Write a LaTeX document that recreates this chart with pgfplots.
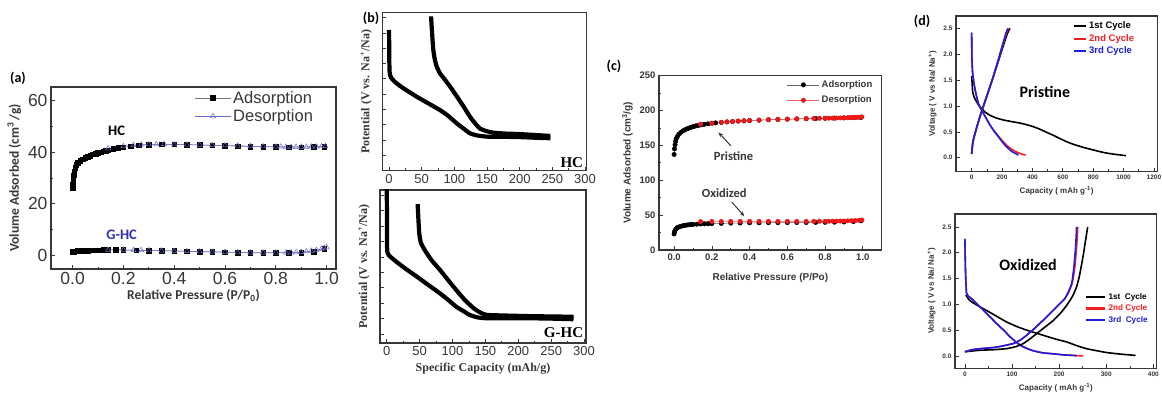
\documentclass[border=0pt]{standalone}
\usepackage{fontspec}
\setmainfont{Liberation Sans}
\newfontfamily\timesf{Liberation Serif}
\newfontfamily\calf{Carlito}
\usepackage{pgfplots}
\pgfplotsset{compat=1.18}
\usetikzlibrary{arrows.meta}
\definecolor{ghc}{RGB}{50,50,170}
\definecolor{desb}{RGB}{110,110,205}
\definecolor{cred}{RGB}{235,25,25}
\definecolor{dred}{RGB}{245,30,30}
\definecolor{dblue}{RGB}{30,30,225}
\definecolor{axg}{RGB}{55,55,55}
\pgfplotsset{
 myax/.style={scale only axis, anchor=south west,
   axis line style={axg, line width=1.2pt},
   tick style={axg, line width=0.7pt},
   major tick length=4pt, minor tick length=2.2pt, tick align=inside,
   xtick pos=left, ytick pos=left,
   /pgf/number format/assume math mode=true,
   scaled x ticks=false, scaled y ticks=false},
}
\begin{document}
\begin{tikzpicture}[x=1pt,y=1pt]
\path[use as bounding box, fill=white] (0,0) rectangle (1162,396);

% ---------------- (a) ----------------
\begin{axis}[myax, at={(51pt,127pt)}, width=285pt, height=182pt,
 xmin=-0.085, xmax=1.037, ymin=-5.4, ymax=65.3,
 xtick={0,0.2,0.4,0.6,0.8,1.0}, minor x tick num=1,
 ytick={0,20,40,60}, minor y tick num=1,
 x tick label style={/pgf/number format/fixed, /pgf/number format/fixed zerofill, /pgf/number format/precision=1},
 tick label style={font=\fontsize{17.5}{19}\selectfont, text=axg},
 xlabel={Relative Pressure (P/P\textsubscript{0})},
 ylabel={Volume Adsorbed (cm\textsuperscript{3}\,/g)},
 label style={font=\calf\bfseries\fontsize{13.5}{15}\selectfont, text=axg},
 xlabel style={yshift=2pt},
 legend style={at={(0.5,0.995)}, anchor=north west, draw=none, fill=none,
   font=\fontsize{16.5}{18}\selectfont, text=axg, row sep=1pt, inner sep=1pt},
 legend cell align=left,
 legend image code/.code={\draw[mark repeat=2, mark phase=2, #1] plot coordinates {(0pt,0pt) (18pt,0pt) (36pt,0pt)};},
]
\addplot[draw=black!55, line width=0.5pt, mark=square*, mark size=2.3pt, mark options={fill=black, draw=black, solid}] coordinates {
(0.000,26) (0.001,27.5) (0.002,29) (0.004,31) (0.006,32.5) (0.01,34) (0.015,35) (0.02,35.8) (0.03,36.6) (0.04,37.2) (0.05,37.8) (0.06,38.3) (0.07,38.7) (0.08,39.1) (0.09,39.4) (0.10,39.7) (0.11,40.0) (0.12,40.3) (0.13,40.5) (0.14,40.8) (0.16,41.2) (0.18,41.6) (0.20,41.9) (0.23,42.3) (0.26,42.6) (0.30,42.8) (0.35,43.0) (0.40,43.0) (0.45,42.9) (0.50,42.8) (0.55,42.6) (0.60,42.5) (0.65,42.3) (0.70,42.2) (0.75,42.1) (0.80,42.0) (0.85,41.9) (0.90,41.9) (0.95,42.0) (0.99,42.1)};
\addlegendentry{Adsorption}
\addplot[draw=desb, line width=0.5pt, mark=triangle, mark size=3pt, mark options={draw=desb, fill=white, solid}] coordinates {
(0.995,42.3) (0.98,42.2) (0.96,42.1) (0.94,42.1) (0.92,42.0) (0.90,42.0) (0.88,42.0) (0.86,42.0) (0.84,42.0) (0.82,42.1) (0.80,42.1) (0.75,42.2) (0.70,42.3) (0.65,42.5) (0.60,42.6) (0.55,42.7) (0.50,42.8) (0.45,42.9) (0.40,43.0) (0.36,43.1) (0.33,43.0) (0.30,43.0) (0.27,42.9) (0.24,42.7) (0.20,42.3) (0.14,41.5)};
\addlegendentry{Desorption}
\addplot[forget plot, draw=black!55, line width=0.5pt, mark=square*, mark size=2.3pt, mark options={fill=black, draw=black, solid}] coordinates {
(0,1.2) (0.005,1.4) (0.01,1.5) (0.02,1.6) (0.03,1.65) (0.04,1.7) (0.05,1.75) (0.06,1.8) (0.07,1.85) (0.08,1.9) (0.09,1.9) (0.10,1.9) (0.11,1.95) (0.12,2.0) (0.13,2.0) (0.14,2.0) (0.17,2.0) (0.2,2.0) (0.25,1.9) (0.3,1.8) (0.35,1.7) (0.4,1.6) (0.45,1.5) (0.5,1.3) (0.55,1.2) (0.6,1.1) (0.65,1.0) (0.7,0.9) (0.75,0.9) (0.8,0.9) (0.85,0.9) (0.9,1.0) (0.95,1.3) (0.99,2.5)};
\addplot[forget plot, draw=desb, line width=0.5pt, mark=triangle, mark size=3pt, mark options={draw=desb, fill=white, solid}] coordinates {
(1.0,3.0) (0.99,2.8) (0.98,2.4) (0.96,1.9) (0.94,1.6) (0.92,1.4) (0.9,1.2) (0.88,1.1) (0.86,1.0) (0.84,1.0) (0.8,1.0) (0.75,1.0) (0.7,1.0) (0.65,1.1) (0.6,1.2) (0.55,1.3) (0.5,1.4) (0.45,1.5) (0.4,1.6) (0.35,1.7) (0.3,1.8) (0.27,1.9) (0.24,1.9) (0.2,2.0) (0.14,2.0)};
\node[font=\calf\bfseries\fontsize{14.5}{16}\selectfont, text=black] at (axis cs:0.173,48.2) {HC};
\node[font=\calf\bfseries\fontsize{14.5}{16}\selectfont, text=ghc] at (axis cs:0.193,7.8) {G-HC};
\end{axis}

% ---------------- (b) top ----------------
\begin{axis}[myax, at={(382.3pt,225.3pt)}, width=204.4pt, height=158pt,
 xmin=-10.3, xmax=302.6, ymin=0, ymax=2.58,
 xtick={0,50,100,150,200,250,300}, minor x tick num=1,
 ytick={0.25,0.5,0.75,1.0,1.25,1.5,1.75,2.0,2.25,2.5}, yticklabels={},
 tick label style={font=\fontsize{13}{15}\selectfont, text=axg},
 ylabel={Potential (V vs. Na\textsuperscript{+}/Na)},
 ylabel style={font=\timesf\bfseries\fontsize{12}{14}\selectfont, text=axg},
]
\addplot[black, line width=4.2pt, smooth, tension=0.3] coordinates {
(0,2.30) (0.3,2.0) (0.5,1.75) (1,1.6) (3,1.52) (9,1.45) (20,1.36) (42,1.21) (60,1.10) (78,0.99) (90,0.90) (104,0.77) (115,0.68) (124,0.61) (135,0.575) (150,0.556) (175,0.553) (196,0.55) (220,0.54) (247,0.53)};
\addplot[black, line width=4.2pt, smooth, tension=0.3] coordinates {
(64.3,2.52) (65,2.4) (66.5,2.15) (67.8,1.97) (70,1.82) (73,1.70) (78,1.59) (86,1.48) (95,1.35) (104,1.21) (114,1.05) (124,0.88) (132,0.77) (139,0.69) (148,0.65) (160,0.62) (180,0.605) (196,0.60) (220,0.585) (247,0.567)};
\node[anchor=south east, inner sep=0pt, font=\timesf\bfseries\fontsize{15}{17}\selectfont] at (rel axis cs:0.983,0.02) {HC};
\end{axis}

% ---------------- (b) bottom ----------------
\begin{axis}[myax, at={(380pt,53pt)}, width=206pt, height=153pt,
 xmin=-10.2, xmax=303, ymin=0.104, ymax=2.588,
 xtick={0,50,100,150,200,250,300}, minor x tick num=1,
 ytick={0.25,0.5,0.75,1.0,1.25,1.5,1.75,2.0,2.25,2.5}, yticklabels={},
 tick label style={font=\fontsize{13}{15}\selectfont, text=axg},
 xlabel={Specific Capacity (mAh/g)},
 ylabel={Potential (V vs. Na\textsuperscript{+}/Na)},
 label style={font=\timesf\bfseries\fontsize{12}{14}\selectfont, text=axg},
]
\addplot[black, line width=4.2pt, smooth, tension=0.3] coordinates {
(0,2.7) (0.5,2.0) (0.5,1.7) (1,1.58) (3,1.53) (15,1.42) (30,1.30) (46,1.18) (64,1.04) (81,0.91) (95,0.79) (106,0.69) (117,0.62) (126,0.56) (138,0.52) (152,0.505) (180,0.505) (218,0.505) (250,0.50) (284,0.49)};
\addplot[black, line width=4.2pt, smooth, tension=0.3] coordinates {
(47,2.36) (48,2.15) (49.5,1.88) (52,1.73) (58,1.61) (68,1.45) (81,1.29) (93,1.13) (106,0.96) (119,0.80) (132,0.67) (142,0.60) (152,0.56) (180,0.55) (218,0.54) (250,0.535) (284,0.53)};
\node[anchor=south east, inner sep=0pt, font=\timesf\bfseries\fontsize{15}{17}\selectfont] at (rel axis cs:0.987,0.033) {G-HC};
\end{axis}

% ---------------- (c) ----------------
\begin{axis}[myax, at={(659pt,146pt)}, width=222.7pt, height=174.3pt,
 xmin=-0.08, xmax=1.10, ymin=0, ymax=250,
 xtick={0,0.2,0.4,0.6,0.8,1.0}, minor x tick num=1,
 ytick={0,50,100,150,200,250}, minor y tick num=1,
 x tick label style={/pgf/number format/fixed, /pgf/number format/fixed zerofill, /pgf/number format/precision=1},
 tick label style={font=\bfseries\fontsize{9.5}{11}\selectfont, text=axg},
 xlabel={Relative Pressure (P/Po)},
 ylabel={Volume Adsorbed (cm\textsuperscript{3}/g)},
 label style={font=\bfseries\fontsize{10}{12}\selectfont, text=axg},
 xlabel style={yshift=-6pt},
 legend style={at={(0.57,0.99)}, anchor=north west, draw=none, fill=none,
   font=\bfseries\fontsize{9.5}{11}\selectfont, text=axg, row sep=3pt, inner sep=1pt},
 legend cell align=left,
 legend image code/.code={\draw[mark repeat=2, mark phase=2, #1] plot coordinates {(0pt,0pt) (16pt,0pt) (32pt,0pt)};},
]
\addplot[draw=black!60, line width=0.5pt, mark=*, mark size=2.2pt, mark options={fill=black, draw=black, solid}] coordinates {
(0.0,137) (0.002,145) (0.005,151) (0.008,156) (0.012,160) (0.018,163) (0.025,166) (0.035,168.5) (0.045,170.5) (0.055,172) (0.065,173.5) (0.075,174.5) (0.085,175.5) (0.095,176.5) (0.105,177.2) (0.115,178) (0.125,178.6) (0.135,179.2) (0.145,179.7) (0.16,180.3) (0.18,181) (0.2,181.7) (0.22,182.3) (0.25,183) (0.28,183.7) (0.31,184.3) (0.34,184.8) (0.37,185.2) (0.40,185.6) (0.45,186.2) (0.50,186.8) (0.55,187.2) (0.60,187.6) (0.65,188) (0.70,188.3) (0.75,188.6) (0.80,188.9) (0.85,189.2) (0.90,189.5) (0.95,189.8) (0.99,190.2)};
\addlegendentry{Adsorption}
\addplot[draw=cred!70, line width=0.5pt, mark=*, mark size=2.2pt, mark options={fill=cred, draw=cred, solid}] coordinates {
(0.995,191) (0.98,190.5) (0.97,190.3) (0.96,190.2) (0.95,190.1) (0.94,190) (0.93,189.9) (0.92,189.8) (0.90,189.6) (0.88,189.4) (0.86,189.3) (0.84,189.2) (0.82,189.1) (0.80,189) (0.77,188.9) (0.74,188.7) (0.70,188.5) (0.65,188.1) (0.60,187.7) (0.55,187.3) (0.50,186.8) (0.45,186.3) (0.40,185.8) (0.37,185.4) (0.34,185) (0.31,184.4) (0.28,183.8) (0.25,183.2) (0.20,182) (0.14,180.5)};
\addlegendentry{Desorption}
\addplot[forget plot, draw=black!60, line width=0.5pt, mark=*, mark size=2.2pt, mark options={fill=black, draw=black, solid}] coordinates {
(0.0,23) (0.002,26) (0.005,28) (0.01,30) (0.015,31.5) (0.02,32.5) (0.03,33.5) (0.04,34.3) (0.05,35) (0.06,35.5) (0.07,35.9) (0.08,36.2) (0.09,36.5) (0.10,36.7) (0.12,37) (0.14,37.3) (0.16,37.5) (0.18,37.7) (0.2,37.9) (0.25,38.2) (0.3,38.5) (0.35,38.7) (0.4,38.9) (0.45,39) (0.5,39.1) (0.55,39.2) (0.6,39.3) (0.65,39.4) (0.7,39.5) (0.75,39.6) (0.8,39.7) (0.85,39.9) (0.9,40.2) (0.95,40.8) (0.99,41.8)};
\addplot[forget plot, draw=cred!70, line width=0.5pt, mark=*, mark size=2.2pt, mark options={fill=cred, draw=cred, solid}] coordinates {
(0.995,43) (0.98,42.5) (0.96,42.2) (0.94,42) (0.92,41.8) (0.9,41.6) (0.88,41.5) (0.86,41.4) (0.84,41.3) (0.82,41.3) (0.80,41.2) (0.77,41.2) (0.74,41.1) (0.70,41.1) (0.65,41.1) (0.60,41.1) (0.55,41.1) (0.50,41.1) (0.45,41.1) (0.40,41.1) (0.35,41.1) (0.30,41) (0.25,41) (0.20,41) (0.14,40.8)};
\node[font=\calf\bfseries\fontsize{12.5}{14}\selectfont, text=axg] at (axis cs:0.315,134.9) {Pristine};
\node[font=\calf\bfseries\fontsize{12.5}{14}\selectfont, text=axg] at (axis cs:0.266,81.1) {Oxidized};
\draw[-{Stealth[length=5pt,width=4pt]}, line width=1pt, axg] (axis cs:0.301,149.3) -- (axis cs:0.235,168.6);
\draw[-{Stealth[length=5pt,width=4pt]}, line width=1pt, axg] (axis cs:0.306,68.6) -- (axis cs:0.372,48.4);
\end{axis}

% ---------------- (d) top ----------------
\begin{axis}[myax, at={(956pt,224.3pt)}, width=201.3pt, height=155.7pt,
 xmin=-103, xmax=1222, ymin=-0.27, ymax=2.74,
 xtick={0,200,400,600,800,1000,1200}, minor x tick num=1,
 ytick={0,0.5,1.0,1.5,2.0,2.5},
 x tick label style={/pgf/number format/1000 sep={}},
 y tick label style={/pgf/number format/fixed, /pgf/number format/fixed zerofill, /pgf/number format/precision=1},
 tick label style={font=\bfseries\fontsize{6.5}{8}\selectfont, text=axg},
 xlabel={Capacity ( mAh g\textsuperscript{-1})},
 ylabel={Voltage ( V vs Na/ Na\textsuperscript{+})},
 label style={font=\bfseries\fontsize{8}{10}\selectfont, text=axg},
 legend style={at={(0.58,0.975)}, anchor=north west, draw=none, fill=none,
   font=\bfseries\fontsize{9.5}{11}\selectfont, row sep=0pt, inner sep=0pt},
 legend cell align=left,
 legend image code/.code={\draw[#1, line width=2.2pt] (0pt,0pt) -- (12pt,0pt);},
]
\addplot[black, line width=1.6pt, smooth, tension=0.3] coordinates {
(0,1.58) (3,1.45) (6.6,1.28) (15,1.18) (33,1.08) (50,1.00) (66,0.95) (90,0.88) (121,0.82) (160,0.77) (208,0.73) (260,0.70) (318,0.67) (360,0.64) (406,0.60) (450,0.55) (494,0.49) (540,0.43) (581,0.37) (625,0.31) (669,0.26) (735,0.20) (801,0.15) (870,0.10) (932,0.07) (1016,0.04)};
\addlegendentry{\textcolor{black}{1st Cycle}}
\addplot[dred, line width=1.6pt, smooth, tension=0.3] coordinates {
(0,2.42) (1,2.1) (2,1.89) (6,1.65) (15,1.44) (28,1.24) (44,1.05) (60,0.95) (77,0.86) (100,0.74) (121,0.63) (148,0.52) (175,0.42) (205,0.32) (235,0.23) (270,0.15) (310,0.09) (355,0.05)};
\addlegendentry{\textcolor{dred}{2nd Cycle}}
\addplot[dblue, line width=1.6pt, smooth, tension=0.3] coordinates {
(0,2.42) (1,2.1) (2,1.89) (6,1.65) (15,1.44) (28,1.24) (44,1.05) (60,0.95) (77,0.86) (100,0.74) (121,0.63) (148,0.51) (175,0.41) (200,0.31) (230,0.21) (265,0.12) (296,0.07) (307,0.05)};
\addlegendentry{\textcolor{dblue}{3rd Cycle}}
\addplot[forget plot, black, line width=1.6pt, smooth, tension=0.3] coordinates {
(0,0.08) (8,0.3) (25,0.5) (55,0.8) (95,1.15) (135,1.5) (175,1.86) (210,2.18) (235,2.4) (252,2.5)};
\addplot[forget plot, dred, line width=1.6pt, smooth, tension=0.3] coordinates {
(0,0.07) (8,0.3) (25,0.5) (55,0.8) (95,1.15) (135,1.5) (172,1.86) (205,2.18) (228,2.4) (243,2.5)};
\addplot[forget plot, dblue, line width=1.6pt, smooth, tension=0.3] coordinates {
(0,0.07) (8,0.3) (25,0.5) (55,0.8) (95,1.15) (135,1.5) (172,1.86) (203,2.18) (225,2.4) (238,2.5)};
\node[font=\calf\bfseries\fontsize{16}{18}\selectfont] at (axis cs:482,1.27) {Pristine};
\end{axis}

% ---------------- (d) bottom ----------------
\begin{axis}[myax, at={(955pt,27.7pt)}, width=201.7pt, height=154.3pt,
 xmin=-21, xmax=407, ymin=-0.24, ymax=2.75,
 xtick={0,100,200,300,400}, minor x tick num=1,
 ytick={0,0.5,1.0,1.5,2.0,2.5},
 y tick label style={/pgf/number format/fixed, /pgf/number format/fixed zerofill, /pgf/number format/precision=1},
 tick label style={font=\bfseries\fontsize{6.5}{8}\selectfont, text=axg},
 xlabel={Capacity ( mAh g\textsuperscript{-1})},
 ylabel={Voltage ( V vs Na/ Na\textsuperscript{+})},
 label style={font=\bfseries\fontsize{8}{10}\selectfont, text=axg},
 legend style={at={(0.645,0.50)}, anchor=north west, draw=none, fill=none,
   font=\bfseries\fontsize{8.2}{10}\selectfont, row sep=0pt, inner sep=0pt},
 legend cell align=left,
 legend image code/.code={\draw[#1, line width=2.2pt] (0pt,0pt) -- (19pt,0pt);},
]
\addplot[black, line width=1.6pt, smooth, tension=0.3] coordinates {
(2,1.18) (8,1.10) (14,1.05) (30,0.96) (46,0.88) (67,0.77) (88,0.66) (110,0.57) (131,0.50) (152,0.44) (173,0.38) (195,0.32) (216,0.27) (237,0.20) (258,0.14) (280,0.10) (301,0.065) (330,0.035) (362,0.01)};
\addlegendentry{\textcolor{black}{1st~~Cycle}}
\addplot[dred, line width=1.6pt, smooth, tension=0.3] coordinates {
(0,2.27) (0.7,1.9) (1.4,1.6) (2.5,1.35) (3.5,1.21) (7,1.16) (14,1.11) (25,1.01) (39,0.89) (53,0.76) (67,0.63) (82,0.50) (96,0.37) (107,0.28) (117,0.21) (130,0.15) (145,0.10) (165,0.06) (188,0.04) (210,0.02) (230,0.01) (251,0.0)};
\addlegendentry{\textcolor{dred}{2nd~Cycle}}
\addplot[dblue, line width=1.6pt, smooth, tension=0.3] coordinates {
(0,2.27) (0.7,1.9) (1.4,1.6) (2.5,1.35) (3.5,1.21) (7,1.16) (14,1.11) (25,1.01) (39,0.89) (53,0.76) (67,0.63) (82,0.50) (96,0.37) (107,0.28) (117,0.21) (130,0.15) (145,0.10) (165,0.06) (188,0.04) (210,0.02) (230,0.01) (237,0.0)};
\addlegendentry{\textcolor{dblue}{3rd~~Cycle}}
\addplot[forget plot, black, line width=1.6pt, smooth, tension=0.3] coordinates {
(0,0.08) (32,0.11) (60,0.12) (88,0.14) (108,0.18) (124,0.24) (138,0.33) (152,0.43) (170,0.56) (188,0.69) (203,0.83) (216,0.98) (228,1.15) (237,1.34) (243,1.55) (248,1.79) (252,2.0) (255,2.18) (258,2.35) (260.5,2.5)};
\addplot[forget plot, dred, line width=1.6pt, smooth, tension=0.3] coordinates {
(0,0.08) (15,0.12) (32,0.14) (67,0.17) (103,0.24) (118,0.31) (131,0.40) (145,0.51) (159,0.63) (174,0.76) (188,0.89) (200,1.0) (212,1.11) (221,1.25) (228,1.42) (233,1.7) (236,2.0) (238,2.25) (239.5,2.5)};
\addplot[forget plot, dblue, line width=1.6pt, smooth, tension=0.3] coordinates {
(0,0.08) (15,0.12) (32,0.14) (67,0.17) (103,0.24) (118,0.31) (131,0.40) (145,0.51) (159,0.63) (174,0.76) (188,0.89) (200,1.0) (212,1.11) (220,1.25) (227,1.42) (231,1.7) (234,2.0) (235.5,2.2) (237,2.5)};
\node[font=\calf\bfseries\fontsize{16}{18}\selectfont] at (axis cs:134,1.76) {Oxidized};
\end{axis}

% panel labels
\node[font=\calf\bfseries\fontsize{14}{16}\selectfont] at (18,318) {(a)};
\node[font=\calf\bfseries\fontsize{14}{16}\selectfont] at (371,378) {(b)};
\node[font=\calf\bfseries\fontsize{14}{16}\selectfont] at (614,330) {(c)};
\node[font=\calf\bfseries\fontsize{14}{16}\selectfont] at (922,375) {(d)};
\end{tikzpicture}
\end{document}
